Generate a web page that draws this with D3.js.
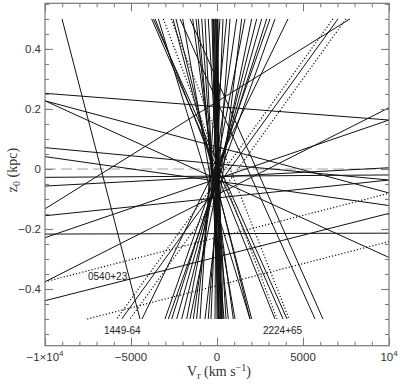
<!DOCTYPE html>
<html>
<head>
<meta charset="utf-8">
<script src="https://cdn.jsdelivr.net/npm/d3@7/dist/d3.min.js"></script>
<style>
body { margin: 0; background: #fff; }
svg { display: block; }
</style>
</head>
<body>
<div id="chart"></div>
<script>
// steep lines: V (km/s) where the line meets z0 = +0.5 and z0 = -0.5
var steepTop = [-3800, -3700, -3600, -3410, -2150, -1570,
    -2558, -2384, -1994, -1413, -1221, -1087, -890, -698, -506,
    -291, -203, -116, -58, 0, 58, -174, -250, -80, 20,
    174, 349, 564, 756, 1145, 1436, 1628, 2017, 2308, 2599, 2890, 3081, 3372, 4128,
    7035, -9012];
var steepBottom = [3840, 4070, 3370, 1920, 5700, 6160,
    2017, 1919, 1047, 948, 657, 407, 291, 116, 523,
    116, 58, 0, 233, -116, 174, 291, 200, 350, 80,
    -988, -349, -1186, -506, -1378, -698, -1762, -1570, -2052, -2343, -2634, -3023, -2831, -4360,
    -5541, -4477];
// dotted steep lines
var dotTop = [-3120, -2670, 6744, 7500];
var dotBottom = [3490, 4190, -5831, -5058];

// shallow lines: z0 (kpc) at V = -1e4 and V = +1e4
var flatLeft = [0.252, 0.227, 0.071, 0.041, -0.028, -0.057, -0.156, -0.217, -0.229, -0.376, -0.439, -0.133, 0.227];
var flatRight = [0.163, -0.080, -0.037, -0.122, -0.020, 0.004, -0.037, -0.214, 0.163, 0.204, -0.148, 0.581, -0.295];
var dotFlatLeft = [-0.376, -0.536];
var dotFlatRight = [-0.081, -0.242];

var xMajor = [-10000, -5000, 0, 5000, 10000];
var xLabels = [["\u22121\u00d710", "4"], ["\u22125000", ""], ["0", ""], ["5000", ""], ["10", "4"]];
var yMajor = [0.4, 0.2, 0, -0.2, -0.4];
var yLabels = ["0.4", "0.2", "0", "\u22120.2", "\u22120.4"];

var names = ["0540+23", "1449-64", "2224+65"];
var nameV = [-7500, -6570, 2670];
var nameZ = [-0.37, -0.55, -0.55];

var W = 400, H = 385;
var svg = d3.select("#chart").append("svg").attr("width", W).attr("height", H);

var x = d3.scaleLinear().domain([-10000, 10000]).range([45, 389]);
var y = d3.scaleLinear().domain([-0.589, 0.552]).range([345.7, 3.3]);

// clip an infinite line through two points to the data box
function clip(v1, z1, v2, z2) {
    var t0 = -Infinity, t1 = Infinity;
    var dv = v2 - v1, dz = z2 - z1;
    var lims = [[v1, dv, -10000, 10000], [z1, dz, -0.5, 0.5]];
    for (var k = 0; k < 2; k++) {
        var p = lims[k][0], d = lims[k][1], lo = lims[k][2], hi = lims[k][3];
        if (d == 0) { if (p < lo || p > hi) return null; continue; }
        var a = (lo - p) / d, b = (hi - p) / d;
        t0 = Math.max(t0, Math.min(a, b));
        t1 = Math.min(t1, Math.max(a, b));
    }
    if (t0 >= t1) return null;
    return [v1 + dv * t0, z1 + dz * t0, v1 + dv * t1, z1 + dz * t1];
}

var segs = [];
steepTop.forEach(function(d, i) { segs.push({p: clip(d, 0.5, steepBottom[i], -0.5), dot: false}); });
dotTop.forEach(function(d, i) { segs.push({p: clip(d, 0.5, dotBottom[i], -0.5), dot: true}); });
flatLeft.forEach(function(d, i) { segs.push({p: clip(-10000, d, 10000, flatRight[i]), dot: false}); });
dotFlatLeft.forEach(function(d, i) { segs.push({p: clip(-10000, d, 10000, dotFlatRight[i]), dot: true}); });
segs = segs.filter(function(s) { return s.p; });

// zero line
svg.append("line")
    .attr("x1", x(-10000)).attr("x2", x(10000))
    .attr("y1", y(0)).attr("y2", y(0))
    .attr("stroke", "#c4c4c4").attr("stroke-width", 1.5)
    .attr("stroke-dasharray", "11,5");

svg.append("g").selectAll("line")
    .data(segs)
    .enter()
    .append("line")
    .attr("x1", function(d) { return x(d.p[0]); })
    .attr("y1", function(d) { return y(d.p[1]); })
    .attr("x2", function(d) { return x(d.p[2]); })
    .attr("y2", function(d) { return y(d.p[3]); })
    .attr("stroke", "#111")
    .attr("stroke-width", function(d) { return d.dot ? 1.2 : 1; })
    .attr("stroke-dasharray", function(d) { return d.dot ? "1.2,2" : null; });

// frame
svg.append("rect")
    .attr("x", 45).attr("y", 3.3)
    .attr("width", 344).attr("height", 342.4)
    .attr("fill", "none").attr("stroke", "#777").attr("stroke-width", 1.2);

var xMinor = d3.range(-10000, 10001, 1000);
var yMinor = d3.range(-0.55, 0.551, 0.05);

function ticks(axis, vals, size) {
    return axis.tickValues(vals).tickSize(size).tickFormat("");
}
var tickGroups = [
    [d3.axisBottom(x), xMinor, -4, "translate(0,345.7)"],
    [d3.axisBottom(x), xMajor, -8, "translate(0,345.7)"],
    [d3.axisTop(x), xMinor, -4, "translate(0,3.3)"],
    [d3.axisTop(x), xMajor, -8, "translate(0,3.3)"],
    [d3.axisLeft(y), yMinor, -4, "translate(45,0)"],
    [d3.axisLeft(y), yMajor, -8, "translate(45,0)"],
    [d3.axisRight(y), yMinor, -4, "translate(389,0)"],
    [d3.axisRight(y), yMajor, -8, "translate(389,0)"]
];
tickGroups.forEach(function(t) {
    var g = svg.append("g").attr("transform", t[3]).call(ticks(t[0], t[1], t[2]));
    g.select(".domain").remove();
    g.selectAll("line").attr("stroke", "#777").attr("stroke-width", 1);
});

// tick labels
var xl = svg.append("g").selectAll("text")
    .data(xMajor)
    .enter()
    .append("text")
    .attr("x", function(d) { return x(d); })
    .attr("y", 361)
    .attr("text-anchor", "middle")
    .attr("font-family", "Liberation Sans, Arial, sans-serif")
    .attr("font-size", 11.5)
    .attr("fill", "#333");
xl.append("tspan").text(function(d, i) { return xLabels[i][0]; });
xl.append("tspan").attr("dy", -5).attr("font-size", 8).text(function(d, i) { return xLabels[i][1]; });

svg.append("g").selectAll("text")
    .data(yMajor)
    .enter()
    .append("text")
    .attr("x", 41)
    .attr("y", function(d) { return y(d) + 4; })
    .attr("text-anchor", "end")
    .attr("font-family", "Liberation Sans, Arial, sans-serif")
    .attr("font-size", 11.5)
    .attr("fill", "#333")
    .text(function(d, i) { return yLabels[i]; });

// axis titles
var xt = svg.append("text")
    .attr("x", 219).attr("y", 376)
    .attr("text-anchor", "middle")
    .attr("font-family", "Liberation Serif, Times New Roman, serif")
    .attr("font-size", 14)
    .attr("fill", "#333");
xt.append("tspan").text("V");
xt.append("tspan").attr("dy", 3).attr("font-size", 10).text("r");
xt.append("tspan").attr("dy", -3).text("  (km  s");
xt.append("tspan").attr("dy", -5).attr("font-size", 10).text("\u22121");
xt.append("tspan").attr("dy", 5).text(")");

var yt = svg.append("text")
    .attr("transform", "translate(17,170) rotate(-90)")
    .attr("text-anchor", "middle")
    .attr("font-family", "Liberation Serif, Times New Roman, serif")
    .attr("font-size", 14)
    .attr("fill", "#333");
yt.append("tspan").text("z");
yt.append("tspan").attr("dy", 3).attr("font-size", 10).text("0");
yt.append("tspan").attr("dy", -3).text("  (kpc)");

// pulsar names
svg.append("g").selectAll("text")
    .data(names)
    .enter()
    .append("text")
    .attr("x", function(d, i) { return x(nameV[i]); })
    .attr("y", function(d, i) { return y(nameZ[i]); })
    .attr("font-family", "Liberation Sans, Arial, sans-serif")
    .attr("font-size", 10)
    .attr("fill", "#222")
    .text(function(d) { return d; });
</script>
</body>
</html>
